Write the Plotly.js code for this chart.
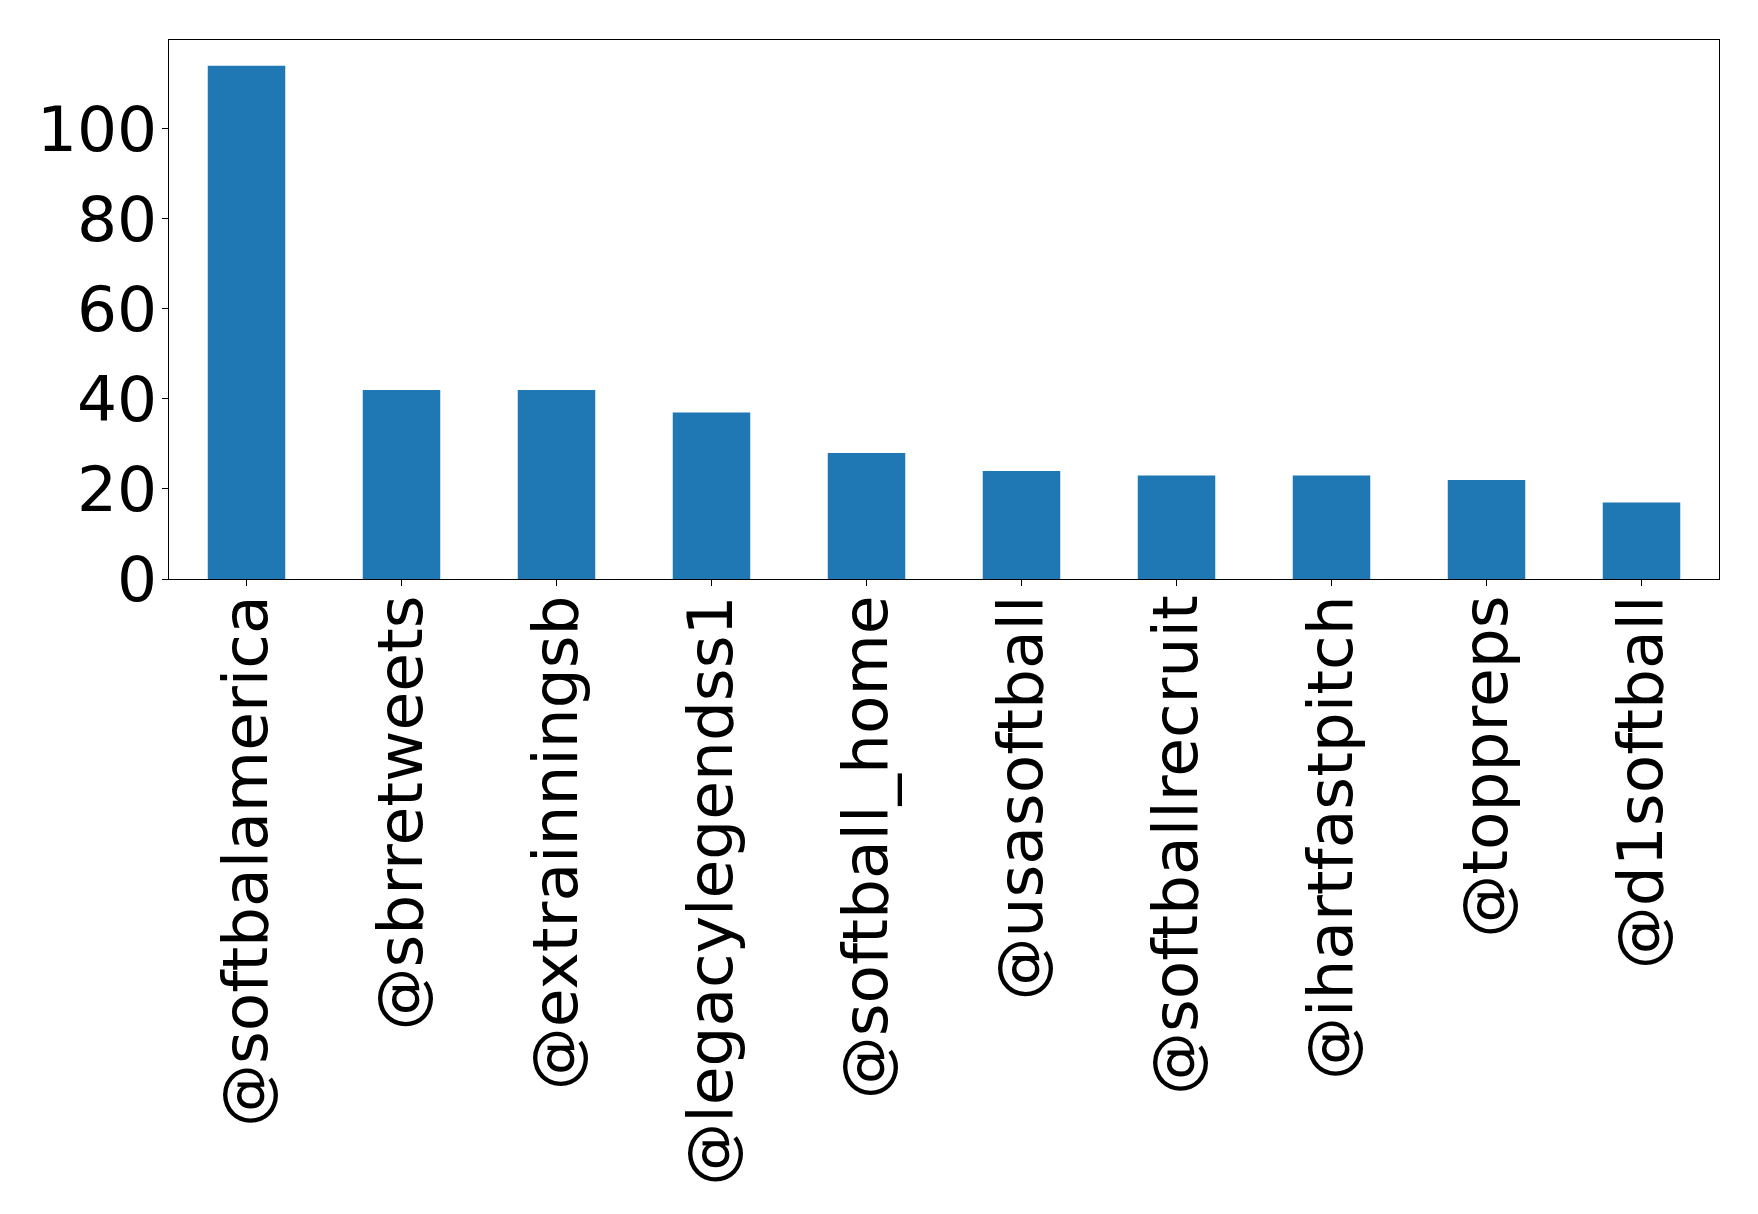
<!DOCTYPE html>
<html>
<head>
<meta charset="utf-8">
<script src="https://cdn.plot.ly/plotly-3.0.1.min.js"></script>
<style>
  html, body { margin: 0; padding: 0; background: #ffffff; }
  #chart { width: 1758px; height: 1214px; }
</style>
</head>
<body>
<div id="chart"></div>
<script>
// Accounts and their counts
const accounts = [
  "@softbalamerica", "@sbrretweets", "@extrainningsb", "@legacylegendss1",
  "@softball_home", "@usasoftball", "@softballrecruit", "@ihartfastpitch",
  "@toppreps", "@d1softball"
];
const counts = [114, 42, 42, 37, 28, 24, 23, 23, 22, 17];
const yTicks = [0, 20, 40, 60, 80, 100];

const positions = accounts.map((_, i) => i);

const trace = {
  type: "bar",
  x: positions,
  y: counts,
  width: 0.5,
  marker: { color: "#1f77b4", line: { width: 0 } },
  hoverinfo: "x+y"
};

const font = { family: "DejaVu Sans, sans-serif", size: 63, color: "#000000" };

const layout = {
  width: 1758,
  height: 1214,
  margin: { l: 169, r: 39, t: 40, b: 635 },
  paper_bgcolor: "#ffffff",
  plot_bgcolor: "#ffffff",
  showlegend: false,
  font: font,
  xaxis: {
    range: [-0.5, 9.5],
    tickmode: "array",
    tickvals: positions,
    ticktext: accounts,
    tickangle: -90,
    tickfont: font,
    ticks: "outside",
    ticklen: 6,
    tickwidth: 1,
    tickcolor: "#000000",
    ticklabelstandoff: -16,
    showline: true,
    linecolor: "#000000",
    linewidth: 1.2,
    mirror: true,
    showgrid: false,
    zeroline: false
  },
  yaxis: {
    range: [0, 119.7],
    tickmode: "array",
    tickvals: yTicks,
    ticktext: yTicks.map(String),
    tickfont: font,
    ticks: "outside",
    ticklen: 6,
    tickwidth: 1,
    tickcolor: "#000000",
    ticklabelstandoff: -8,
    showline: true,
    linecolor: "#000000",
    linewidth: 1.2,
    mirror: true,
    showgrid: false,
    zeroline: false
  }
};

Plotly.newPlot("chart", [trace], layout, { displayModeBar: false, staticPlot: true });
</script>
</body>
</html>
